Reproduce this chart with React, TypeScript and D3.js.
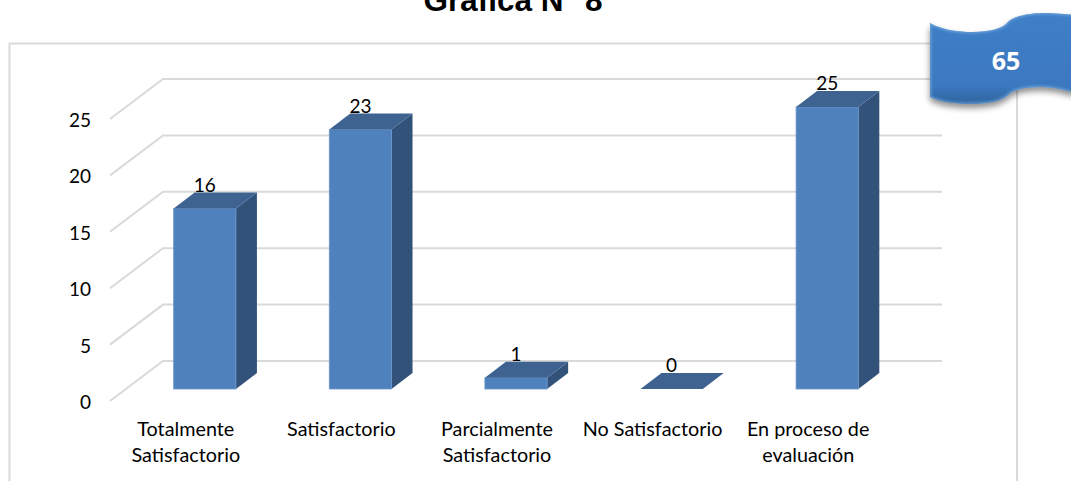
import { useEffect, useRef } from 'react';
import * as d3 from 'd3';

const categories = ['Totalmente Satisfactorio', 'Satisfactorio', 'Parcialmente Satisfactorio', 'No Satisfactorio', 'En proceso de evaluación'];
const categoryLines = [['Totalmente', 'Satisfactorio'], ['Satisfactorio'], ['Parcialmente', 'Satisfactorio'], ['No Satisfactorio'], ['En proceso de', 'evaluación']];
const values = [16, 23, 1, 0, 25];
const yTicks = [0, 5, 10, 15, 20, 25];

const FONT = 'Lato, sans-serif';
const RIBBON = 'M930,23C942,30 960,32 972,32C990,32 1003,28 1007,23C1012,16 1030,13 1045,13C1055,13 1065,14 1075,15V93C1062,89 1050,87 1040,87C1025,87 1012,90 1007,96C1000,102 985,104 970,104C955,104 940,102 930,97Z';

export default function App() {
  const svgRef = useRef<SVGSVGElement>(null);

  useEffect(() => {
    if (!svgRef.current) return;
    const svg = d3.select(svgRef.current);
    svg.selectAll('*').remove();

    const width = 1071;
    const height = 481;

    const xScale = d3.scaleBand<string>().domain(categories).range([127, 905]).paddingInner(0.6).paddingOuter(0.3);
    // front edge of the left wall
    const yScale = d3.scaleLinear().domain([0, 25]).range([401, 119]);

    // 3d offsets
    const wallDx = 53;
    const wallDy = -40;
    const barLift = 12;
    const depthX = 21;
    const depthY = -16;
    const wallLeft = 110;
    const wallRight = 942;

    const defs = svg.append('defs');
    const grad = defs.append('linearGradient').attr('id', 'ribbonFill').attr('x1', 0).attr('y1', 0).attr('x2', 0).attr('y2', 1);
    grad.append('stop').attr('offset', '0%').attr('stop-color', '#3f80c8');
    grad.append('stop').attr('offset', '80%').attr('stop-color', '#3b78bf');
    grad.append('stop').attr('offset', '100%').attr('stop-color', '#2f659f');
    const shadow = defs.append('filter').attr('id', 'ribbonShadow').attr('x', '-10%').attr('y', '-10%').attr('width', '120%').attr('height', '130%');
    shadow.append('feDropShadow').attr('dx', 0).attr('dy', 4).attr('stdDeviation', 3).attr('flood-color', '#000').attr('flood-opacity', 0.45);
    defs.append('filter').attr('id', 'soft').append('feGaussianBlur').attr('stdDeviation', 1.2);
    defs.append('clipPath').attr('id', 'ribbonClip').append('path').attr('d', RIBBON);

    svg.append('rect').attr('width', width).attr('height', height).attr('fill', '#fff');

    // Title, cut by the top of the page
    svg.append('text')
      .attr('x', 513)
      .attr('y', 10.5)
      .attr('text-anchor', 'middle')
      .attr('font-family', '"Liberation Sans", Arial, sans-serif')
      .attr('font-weight', 700)
      .attr('font-size', 31.5)
      .attr('fill', '#000')
      .text('Gráfica N° 8');

    // Outer frame runs off the bottom
    svg.append('path')
      .attr('d', `M9.5,${height + 5}V43.5H1017V${height + 5}`)
      .attr('fill', 'none')
      .attr('stroke', '#d9d9d9')
      .attr('stroke-width', 2);

    // Grid on wall and floor
    const grid = svg.append('g');
    yTicks.forEach((t) => {
      const y = yScale(t);
      grid.append('path')
        .attr('d', d3.line()([[wallLeft, y], [wallLeft + wallDx, y + wallDy], [wallRight, y + wallDy]]))
        .attr('fill', 'none')
        .attr('stroke', '#d9d9d9')
        .attr('stroke-width', 2);
    });

    // Y axis labels
    svg.append('g')
      .selectAll('text')
      .data(yTicks)
      .join('text')
      .attr('x', 91)
      .attr('y', (d) => yScale(d) + 8)
      .attr('text-anchor', 'end')
      .attr('font-family', FONT)
      .attr('font-size', 19)
      .attr('fill', '#000')
      .text((d) => d);

    // Bars
    const unit = yScale(0) - yScale(1);
    categories.forEach((cat, i) => {
      const v = values[i];
      const x0 = xScale(cat)!;
      const x1 = x0 + xScale.bandwidth();
      const yb = yScale(0) - barLift;
      const yt = yb - v * unit;
      const g = svg.append('g');

      if (v > 0) {
        g.append('path')
          .attr('d', `M${x1},${yb}L${x1 + depthX},${yb + depthY}V${yt + depthY}L${x1},${yt}Z`)
          .attr('fill', '#32527a');
        g.append('rect')
          .attr('x', x0)
          .attr('y', yt)
          .attr('width', xScale.bandwidth())
          .attr('height', yb - yt)
          .attr('fill', '#4f81bd')
          .attr('stroke', '#6b97cc')
          .attr('stroke-width', 0.8);
      }
      g.append('path')
        .attr('d', `M${x0},${yt}L${x0 + depthX},${yt + depthY}H${x1 + depthX}L${x1},${yt}Z`)
        .attr('fill', '#3e6391');

      svg.append('text')
        .attr('x', (x0 + x1) / 2)
        .attr('y', yt + depthY - 1)
        .attr('text-anchor', 'middle')
        .attr('font-family', FONT)
        .attr('font-size', 19)
        .attr('fill', '#000')
        .text(v);

      // Category label
      const label = svg.append('text')
        .attr('text-anchor', 'middle')
        .attr('font-family', FONT)
        .attr('font-size', 19.8)
        .attr('fill', '#000');
      categoryLines[i].forEach((line, j) => {
        label.append('tspan')
          .attr('x', (x0 + x1) / 2 - 19)
          .attr('y', 436 + j * 26)
          .text(line);
      });
    });

    // Ribbon badge
    svg.append('path')
      .attr('d', RIBBON)
      .attr('fill', 'url(#ribbonFill)')
      .attr('filter', 'url(#ribbonShadow)');
    svg.append('g')
      .attr('clip-path', 'url(#ribbonClip)')
      .append('path')
      .attr('d', RIBBON)
      .attr('fill', 'none')
      .attr('stroke', '#7fb0e4')
      .attr('stroke-opacity', 0.6)
      .attr('stroke-width', 3)
      .attr('filter', 'url(#soft)');
    svg.append('text')
      .attr('x', 1006)
      .attr('y', 70)
      .attr('text-anchor', 'middle')
      .attr('font-family', '"Open Sans", sans-serif')
      .attr('font-weight', 700)
      .attr('font-size', 25)
      .attr('fill', '#fff')
      .text('65');
  }, []);

  return <svg ref={svgRef} width={1071} height={481} style={{ position: 'absolute', left: 0, top: 0 }} />;
}
